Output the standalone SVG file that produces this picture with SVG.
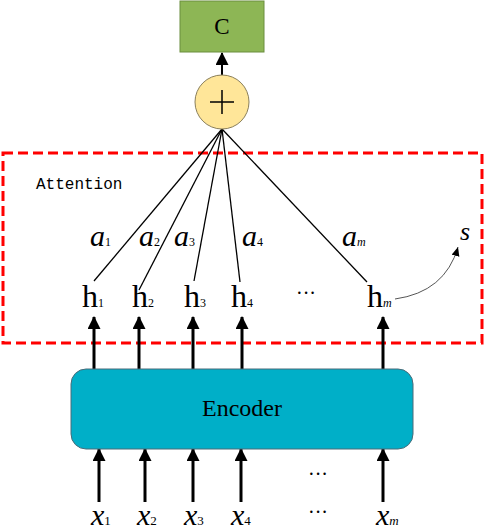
<svg xmlns="http://www.w3.org/2000/svg" width="484" height="531" viewBox="0 0 484 531">
<style>
.serif{font-family:"Liberation Serif","Times New Roman",serif;fill:#000}
.it{font-style:italic}
.thick{stroke:#000;stroke-width:3;fill:none}
.thin{stroke:#000;stroke-width:1.3;fill:none}
</style>
<defs>
<marker id="ah" markerUnits="userSpaceOnUse" markerWidth="14" markerHeight="14" refX="12" refY="6.5" orient="auto">
<path d="M0,0 L13,6.5 L0,13 z" fill="#000"/>
</marker>
<marker id="ahs" markerUnits="userSpaceOnUse" markerWidth="10" markerHeight="10" refX="9" refY="4" orient="auto">
<path d="M0,0 L9,4 L0,8 z" fill="#000"/>
</marker>
</defs>
<rect width="484" height="531" fill="#fff"/>

<g id="attention">
<rect x="3" y="153" width="479" height="190" fill="none" stroke="#ff0000" stroke-width="3" stroke-dasharray="10,5"/>
<text x="36" y="189" font-family="Liberation Mono, monospace" font-size="16" fill="#000">Attention</text>
</g>

<g id="connectors">
<line class="thick" x1="222" y1="75" x2="222" y2="53" marker-end="url(#ah)" style="stroke-width:2"/>
<line class="thin" x1="222" y1="129" x2="94" y2="281"/>
<line class="thin" x1="222" y1="129" x2="139" y2="290"/>
<line class="thin" x1="222" y1="129" x2="194" y2="281"/>
<line class="thin" x1="222" y1="129" x2="240" y2="282"/>
<line class="thin" x1="222" y1="129" x2="367" y2="282"/>
<line class="thick" x1="94" y1="369" x2="94" y2="317" marker-end="url(#ah)"/>
<line class="thick" x1="139" y1="369" x2="139" y2="317" marker-end="url(#ah)"/>
<line class="thick" x1="193" y1="369" x2="193" y2="317" marker-end="url(#ah)"/>
<line class="thick" x1="242" y1="369" x2="242" y2="317" marker-end="url(#ah)"/>
<line class="thick" x1="383" y1="369" x2="383" y2="317" marker-end="url(#ah)"/>
<line class="thick" x1="99" y1="502" x2="99" y2="449" marker-end="url(#ah)"/>
<line class="thick" x1="145" y1="502" x2="145" y2="449" marker-end="url(#ah)"/>
<line class="thick" x1="193" y1="502" x2="193" y2="449" marker-end="url(#ah)"/>
<line class="thick" x1="241" y1="502" x2="241" y2="449" marker-end="url(#ah)"/>
<line class="thick" x1="383" y1="502" x2="383" y2="449" marker-end="url(#ah)"/>
<path d="M395,299 Q445,292 458,247" fill="none" stroke="#555" stroke-width="1" marker-end="url(#ahs)"/>
</g>

<g id="C">
<rect x="180" y="1" width="84" height="51" fill="#8db655" stroke="#6b8e3f" stroke-width="1"/>
<text class="serif" x="222" y="34" font-size="23" text-anchor="middle">C</text>
</g>

<g id="sum">
<circle cx="222" cy="102" r="27" fill="#ffe699" stroke="#8a7f5a" stroke-width="1"/>
<path d="M210,102 H234 M222,90 V114" stroke="#000" stroke-width="1.5"/>
</g>

<g id="weights">
<text class="serif it" x="90" y="246" font-size="30">a<tspan font-size="12" font-style="normal">1</tspan></text>
<text class="serif it" x="139" y="246" font-size="30">a<tspan font-size="12" font-style="normal">2</tspan></text>
<text class="serif it" x="174" y="246" font-size="30">a<tspan font-size="12" font-style="normal">3</tspan></text>
<text class="serif it" x="242" y="246" font-size="30">a<tspan font-size="12" font-style="normal">4</tspan></text>
<text class="serif it" x="342" y="246" font-size="30">a<tspan font-size="12">m</tspan></text>
</g>

<g id="s"><text class="serif it" x="460" y="240" font-size="26">s</text></g>

<g id="h1"><text class="serif" x="82" y="307" font-size="32">h<tspan font-size="12">1</tspan></text></g>
<g id="h2"><text class="serif" x="132" y="307" font-size="32">h<tspan font-size="12">2</tspan></text></g>
<g id="h3"><text class="serif" x="184" y="307" font-size="32">h<tspan font-size="12">3</tspan></text></g>
<g id="h4"><text class="serif" x="231" y="307" font-size="32">h<tspan font-size="12">4</tspan></text></g>
<g id="hdots"><text class="serif" x="306" y="300" font-size="20" text-anchor="middle">···</text></g>
<g id="hm"><text class="serif" x="367" y="307" font-size="32">h<tspan font-size="12" font-style="italic">m</tspan></text></g>

<g id="encoder">
<rect x="71" y="369" width="342" height="80" rx="15" ry="15" fill="#00afc8" stroke="#4a6b78" stroke-width="1"/>
<text class="serif" x="242" y="416" font-size="24" text-anchor="middle">Encoder</text>
</g>

<g id="inputs">
<text class="serif" x="318" y="481" font-size="20" text-anchor="middle">···</text>
<text class="serif" x="318" y="519" font-size="20" text-anchor="middle">···</text>
<text class="serif it" x="91" y="525" font-size="30">x<tspan font-size="13" font-style="normal">1</tspan></text>
<text class="serif it" x="137" y="525" font-size="30">x<tspan font-size="13" font-style="normal">2</tspan></text>
<text class="serif it" x="184" y="525" font-size="30">x<tspan font-size="13" font-style="normal">3</tspan></text>
<text class="serif it" x="231" y="525" font-size="30">x<tspan font-size="13" font-style="normal">4</tspan></text>
<text class="serif it" x="376" y="525" font-size="30">x<tspan font-size="13">m</tspan></text>
</g>
</svg>
